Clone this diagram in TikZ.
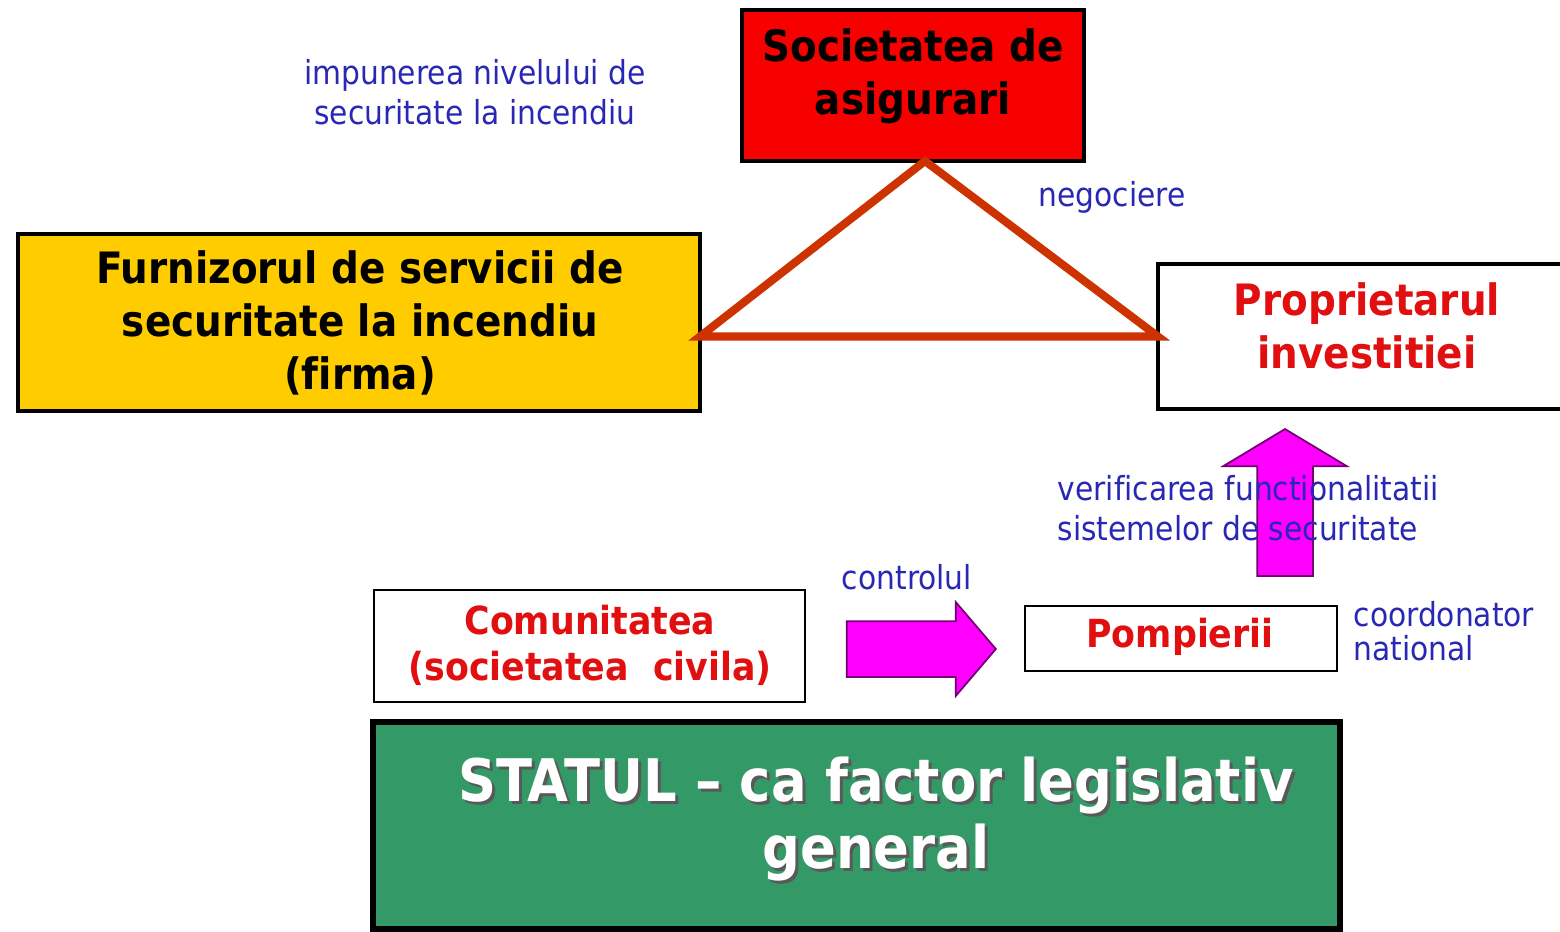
\documentclass[tikz,border=0pt]{standalone}
\usepackage{fontspec}
\setmainfont[Ligatures=CommonOff]{DejaVu Sans Condensed}
\usepackage{xcolor}
\usetikzlibrary{shapes.arrows}
\definecolor{asigred}{RGB}{246,0,0}
\definecolor{firmgold}{RGB}{255,204,0}
\definecolor{trirust}{RGB}{204,51,0}
\definecolor{noteblue}{RGB}{40,40,180}
\definecolor{statgreen}{RGB}{51,153,102}
\definecolor{boxred}{RGB}{225,15,15}
\definecolor{arrmag}{RGB}{255,0,255}
\tikzset{box/.style={draw,outer sep=0pt,inner sep=0pt,anchor=north west},
    boldtxt/.style={align=center,inner sep=0pt,font=\fontsize{12.3}{15.1}\selectfont\bfseries},
    redtxt/.style={align=center,inner sep=0pt,text=boxred,font=\fontsize{11}{13.1}\selectfont\bfseries},
    stattxt/.style={align=center,inner sep=0pt,text=white,font=\fontsize{16.7}{19.3}\selectfont\bfseries},
    note/.style={text=noteblue,inner sep=0pt,font=\fontsize{9.4}{11.4}\selectfont},
    link/.style={draw=trirust,line width=2.3pt},
    fatarrow/.style={single arrow,draw=arrmag!45!black,fill=arrmag,line width=0.5pt,inner sep=2.7mm,anchor=tip}}

\begin{document}
\begin{tikzpicture}[x=0.1mm,y=-0.1mm]
    \useasboundingbox (0,0) rectangle (1560,931);
    % boxes
    \node[box,fill=asigred,line width=1.1pt,minimum width=34.2mm,minimum height=15.1mm] (soc) at (742,10) {};
    \node[box,fill=firmgold,line width=0.9pt,minimum width=68.2mm,minimum height=17.7mm] (furn) at (18,234) {};
    \node[box,fill=white,line width=0.9pt,minimum width=42mm,minimum height=14.5mm] (prop) at (1158,264) {};
    \node[box,fill=white,line width=0.6pt,minimum width=43.1mm,minimum height=11.2mm] (comun) at (374,590) {};
    \node[box,fill=white,line width=0.6pt,minimum width=31.2mm,minimum height=6.5mm] (pomp) at (1025,606) {};
    \node[box,fill=statgreen,line width=1.5pt,minimum width=96.7mm,minimum height=20.7mm] (stat) at (373,722) {};
    % texts
    \node[boldtxt] (soctxt) at (913,76) {Societatea de\\asigurari};
    \node[boldtxt] (furntxt) at (360,323) {Furnizorul de servicii de\\securitate la incendiu\\(firma)};
    \node[boldtxt,text=boxred] (proptxt) at (1367,326) {Proprietarul\\investitiei};
    \node[redtxt] (comuntxt) at (590,645) {Comunitatea\\(societatea\ \ civila)};
    \node[redtxt] (pomptxt) at (1180,637) {Pompierii};
    \node[stattxt,text=black!65] (statshade) at (879,822) {STATUL -- ca factor legislativ\\general};
    \node[stattxt] (stattxt) at (876,819) {STATUL -- ca factor legislativ\\general};
    % triangle
    \draw[link] ([xshift=1.2mm]soc.south) -- (furn.east |- prop.west) -- (prop.west) -- cycle;
    % arrows
    \node[fatarrow,shape border rotate=90,minimum height=14.7mm,minimum width=12.2mm,
        single arrow head extend=3.4mm,single arrow tip angle=118] (verarrow) at (1285,428) {};
    \node[fatarrow,minimum height=14.9mm,minimum width=9.2mm,
        single arrow head extend=1.9mm,single arrow tip angle=99] (ctrlarrow) at (997,649) {};
    % notes
    \node[note,align=center] (impun) at (475,92) {impunerea nivelului de\\securitate la incendiu};
    \node[note] (negoc) at (1112,197) {negociere};
    \node[note,align=left,anchor=west] (verif) at (1057,508) {verificarea functionalitatii\\sistemelor de securitate};
    \node[note] (ctrl) at (907,577) {controlul};
    \node[note,align=left,anchor=west,font=\fontsize{9.4}{9.7}\selectfont] (coord) at (1353,631) {coordonator\\national};
\end{tikzpicture}
\end{document}
